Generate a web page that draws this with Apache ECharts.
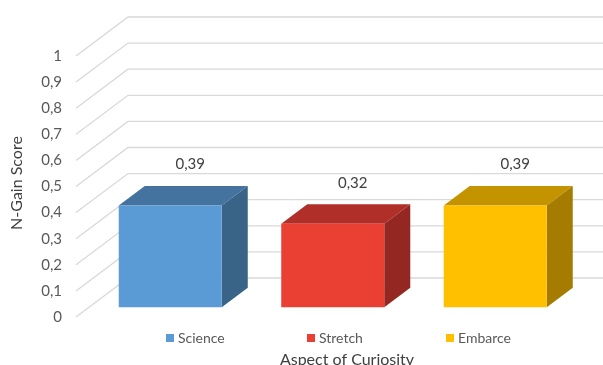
<!DOCTYPE html>
<html>
<head>
<meta charset="utf-8">
<script src="https://cdn.jsdelivr.net/npm/echarts@6/dist/echarts.min.js"></script>
<style>
  html, body { margin: 0; padding: 0; background: #ffffff; }
  #chart { width: 603px; height: 365px; }
</style>
</head>
<body>
<div id="chart"></div>
<script>
// N-Gain score per aspect of curiosity
const categories = ['Science', 'Stretch', 'Embarce'];
const gainScores = [0.39, 0.32, 0.39];
const yTicks = [0, 0.1, 0.2, 0.3, 0.4, 0.5, 0.6, 0.7, 0.8, 0.9, 1];
const yTickLabels = ['0', '0,1', '0,2', '0,3', '0,4', '0,5', '0,6', '0,7', '0,8', '0,9', '1'];

// face colours of each box: front, top, side
const palette = [
  { front: '#5B9BD5', top: '#44739F', side: '#3A6388' },
  { front: '#EA4034', top: '#B12F29', side: '#952722' },
  { front: '#FFC000', top: '#C39300', side: '#A57C00' }
];

const FONT = 'Lato, "Open Sans", sans-serif';
// depth of the floor / back wall in screen pixels
const WALL_DX = 52, WALL_DY = -39;
// bars sit in the middle half of the depth
const BAR_FX = 13, BAR_FY = -9.75, BAR_DX = 26, BAR_DY = -19.5;
const BAR_WIDTH_RATIO = 0.634;

const fmt = v => String(v).replace('.', ',');

function renderGridLine(params, api) {
  const v = api.value(1);
  const y = api.coord([0, v])[1];
  const x0 = params.coordSys.x;
  return {
    type: 'polyline',
    shape: { points: [[x0, y], [x0 + WALL_DX, y + WALL_DY], [api.getWidth(), y + WALL_DY]] },
    style: { stroke: '#D9D9D9', lineWidth: 1.3, fill: null }
  };
}

function makeBoxRenderer(colors) {
  return function (params, api) {
    const idx = api.value(0);
    const val = api.value(1);
    const top = api.coord([idx, val]);
    const base = api.coord([idx, 0]);
    const w = api.size([1, 0])[0] * BAR_WIDTH_RATIO;
    const x1 = top[0] - w / 2 + BAR_FX;
    const x2 = x1 + w;
    const yT = top[1] + BAR_FY;
    const yB = base[1] + BAR_FY;
    return {
      type: 'group',
      children: [
        {
          type: 'polygon',
          shape: { points: [[x1, yT], [x2, yT], [x2 + BAR_DX, yT + BAR_DY], [x1 + BAR_DX, yT + BAR_DY]] },
          style: { fill: colors.top }
        },
        {
          type: 'polygon',
          shape: { points: [[x2, yT], [x2 + BAR_DX, yT + BAR_DY], [x2 + BAR_DX, yB + BAR_DY], [x2, yB]] },
          style: { fill: colors.side }
        },
        {
          type: 'rect',
          shape: { x: x1, y: yT, width: w, height: yB - yT },
          style: { fill: colors.front }
        },
        {
          type: 'text',
          x: x1 + w / 2 + 20,
          y: yT - 41,
          style: {
            text: fmt(val), fill: '#404040', font: '15px ' + FONT,
            align: 'center', verticalAlign: 'middle'
          }
        }
      ]
    };
  };
}

const chart = echarts.init(document.getElementById('chart'), null, { renderer: 'canvas' });

const series = [{
  type: 'custom',
  name: 'grid',
  z: 1,
  clip: false,
  silent: true,
  renderItem: renderGridLine,
  data: yTicks.map(v => [0, v])
}];
categories.forEach((name, i) => {
  series.push({
    type: 'custom',
    name: name,
    z: 2,
    clip: false,
    itemStyle: { color: palette[i].front },
    renderItem: makeBoxRenderer(palette[i]),
    data: [[i, gainScores[i]]]
  });
});

const legendLefts = [166, 307, 446];

chart.setOption({
  animation: false,
  backgroundColor: '#ffffff',
  grid: { left: 76, top: 56, width: 487.5, height: 261, containLabel: false },
  xAxis: {
    type: 'category',
    data: categories,
    boundaryGap: true,
    axisLine: { show: false },
    axisTick: { show: false },
    axisLabel: { show: false },
    splitLine: { show: false }
  },
  yAxis: {
    type: 'value',
    min: 0,
    max: 1,
    interval: 0.1,
    axisLine: { show: false },
    axisTick: { show: false },
    splitLine: { show: false },
    axisLabel: {
      margin: 14,
      color: '#595959',
      fontFamily: FONT,
      fontSize: 15,
      formatter: (v, i) => yTickLabels[i]
    }
  },
  legend: categories.map((name, i) => ({
    data: [name],
    left: legendLefts[i],
    top: 331,
    icon: 'rect',
    itemWidth: 8,
    itemHeight: 8,
    itemGap: 0,
    padding: 0,
    selectedMode: false,
    textStyle: { color: '#595959', fontFamily: FONT, fontSize: 14, padding: [0, 0, 0, -1] }
  })),
  graphic: [
    {
      type: 'text',
      x: 347,
      y: 360,
      style: {
        text: 'Aspect of Curiosity', fill: '#404040', font: '16px ' + FONT,
        align: 'center', verticalAlign: 'middle'
      }
    },
    {
      type: 'text',
      x: 17,
      y: 183,
      rotation: Math.PI / 2,
      style: {
        text: 'N-Gain Score', fill: '#404040', font: '16px ' + FONT,
        align: 'center', verticalAlign: 'middle'
      }
    }
  ],
  series: series
});
</script>
</body>
</html>
